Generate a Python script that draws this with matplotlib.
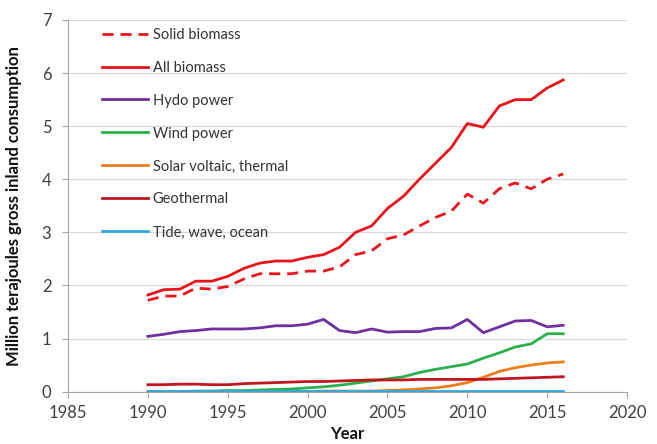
import matplotlib
matplotlib.use("Agg")
import matplotlib.pyplot as plt

years = list(range(1990, 2017))
solid_biomass = [1.72, 1.80, 1.80, 1.95, 1.93, 1.98, 2.12, 2.22, 2.22, 2.22, 2.27, 2.27, 2.35, 2.58, 2.65,
                 2.88, 2.95, 3.12, 3.28, 3.40, 3.72, 3.55, 3.82, 3.93, 3.82, 4.00, 4.10]
all_biomass = [1.82, 1.92, 1.93, 2.08, 2.08, 2.17, 2.32, 2.42, 2.46, 2.46, 2.53, 2.58, 2.72, 3.00, 3.12,
               3.45, 3.68, 4.00, 4.30, 4.60, 5.05, 4.98, 5.38, 5.50, 5.50, 5.72, 5.87]
hydro = [1.04, 1.08, 1.13, 1.15, 1.18, 1.18, 1.18, 1.20, 1.24, 1.24, 1.27, 1.36, 1.15, 1.11, 1.18,
         1.12, 1.13, 1.13, 1.19, 1.20, 1.36, 1.11, 1.22, 1.33, 1.34, 1.22, 1.25]
wind = [0.00, 0.00, 0.00, 0.01, 0.01, 0.02, 0.02, 0.03, 0.04, 0.05, 0.07, 0.09, 0.12, 0.16, 0.20,
        0.24, 0.28, 0.36, 0.42, 0.47, 0.52, 0.63, 0.73, 0.84, 0.90, 1.09, 1.09]
solar = [0.00, 0.00, 0.00, 0.00, 0.00, 0.00, 0.00, 0.00, 0.00, 0.00, 0.00, 0.01, 0.01, 0.01, 0.01,
         0.02, 0.03, 0.05, 0.07, 0.11, 0.17, 0.27, 0.38, 0.45, 0.50, 0.54, 0.56]
geothermal = [0.13, 0.13, 0.14, 0.14, 0.13, 0.13, 0.15, 0.16, 0.17, 0.18, 0.19, 0.19, 0.20, 0.21, 0.22,
              0.22, 0.22, 0.23, 0.23, 0.23, 0.23, 0.23, 0.24, 0.25, 0.26, 0.27, 0.28]
tide = [0.005] * 27

series = [
    ("Solid biomass", solid_biomass, "#E8161C", "--"),
    ("All biomass", all_biomass, "#E8161C", "-"),
    ("Hydo power", hydro, "#7030A0", "-"),
    ("Wind power", wind, "#2BB04E", "-"),
    ("Solar voltaic, thermal", solar, "#EE7D1C", "-"),
    ("Geothermal", geothermal, "#C0171E", "-"),
    ("Tide, wave, ocean", tide, "#2FA9DF", "-"),
]

plt.rcParams['font.family'] = ['Lato', 'DejaVu Sans']

fig = plt.figure(figsize=(6.57, 4.44), dpi=100)
ax = fig.add_axes([0.1035, 0.118, 0.851, 0.837])

for name, vals, col, ls in series:
    ax.plot(years, vals, color=col, linestyle=ls, lw=2.0, label=name,
            solid_joinstyle='round', dashes=(4, 2.5) if ls == "--" else (None, None))

ax.set_xlim(1985, 2020)
ax.set_ylim(0, 7)
ax.set_xticks(range(1985, 2021, 5))
ax.set_yticks(range(0, 8))
ax.yaxis.grid(True, color="#D9D9D9", lw=0.9)
ax.set_axisbelow(True)
for s in ["top", "right"]:
    ax.spines[s].set_visible(False)
for s in ["left", "bottom"]:
    ax.spines[s].set_color("#A6A6A6")
ax.tick_params(axis='both', colors="#A6A6A6", labelcolor="#404040", labelsize=12, length=4)
ax.tick_params(axis='y', pad=8)
ax.tick_params(axis='x', pad=6)

ax.set_ylabel("Million terajoules gross inland consumption", fontsize=12, fontweight='bold', color="#111111", labelpad=14)
ax.set_xlabel("Year", fontsize=12, fontweight='bold', color="#111111", labelpad=3)

leg = ax.legend(loc="upper left", bbox_to_anchor=(0.05, 0.995), frameon=False, fontsize=10.5,
                handlelength=3.2, handletextpad=0.3, labelspacing=1.3, borderaxespad=0.0)
for t in leg.get_texts():
    t.set_color("#333333")

fig.savefig("out.png", dpi=100)
